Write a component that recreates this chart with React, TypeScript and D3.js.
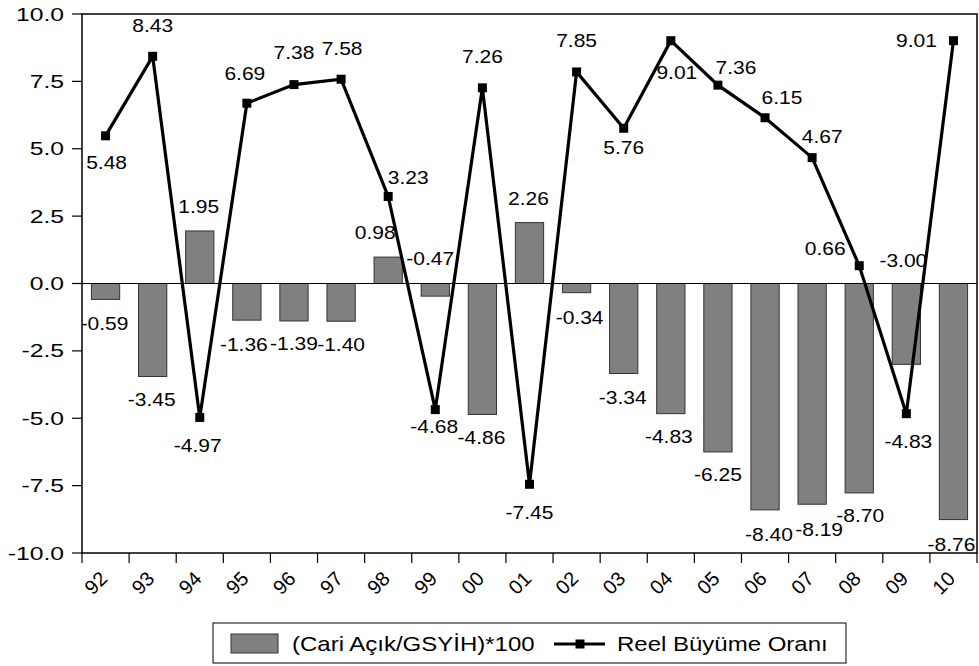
import React, { useRef, useEffect } from 'react'
import * as d3 from 'd3'

// years (x axis)
const years = ['92', '93', '94', '95', '96', '97', '98', '99', '00', '01', '02', '03', '04', '05', '06', '07', '08', '09', '10']

// (Cari Açık/GSYİH)*100 — bar heights as drawn
const cariAcik = [-0.59, -3.45, 1.95, -1.36, -1.39, -1.40, 0.98, -0.47, -4.86, 2.26, -0.34, -3.34, -4.83, -6.25, -8.40, -8.19, -7.77, -3.00, -8.76]
// the printed bar labels (08 is printed as -8.70 in the source)
const cariLabels = ['-0.59', '-3.45', '1.95', '-1.36', '-1.39', '-1.40', '0.98', '-0.47', '-4.86', '2.26', '-0.34', '-3.34', '-4.83', '-6.25', '-8.40', '-8.19', '-8.70', '-3.00', '-8.76']

// Reel Büyüme Oranı
const buyume = [5.48, 8.43, -4.97, 6.69, 7.38, 7.58, 3.23, -4.68, 7.26, -7.45, 7.85, 5.76, 9.01, 7.36, 6.15, 4.67, 0.66, -4.83, 9.01]

const yTicks = [-10, -7.5, -5, -2.5, 0, 2.5, 5, 7.5, 10]

// label placement (px offset of label centre from its mark)
const lineLabelOffset = [
    [1, 27], [0, -31], [-2, 28], [-2, -30], [0, -32], [1, -31], [20, -19], [-1, 17], [0, -31], [0, 28],
    [0, -31], [0, 19], [6, 32], [18, -17], [17, -20], [10, -21], [-34, -17], [2, 28], [-37, 0]
]
const barLabelOffset = [
    [-1, 24], [-1, 23], [-1, -24], [-3, 25], [0, 23], [0, 23], [-13, -24], [-5, -37], [-1, 23], [-1, -24],
    [3, 25], [-1, 24], [-2, 23], [0, 23], [4, 25], [7, 25], [1, 23], [-3, -104], [-2, 25]
]

const FONT = '"Liberation Sans", Arial, sans-serif'

// plain hyphen minus like the source, not d3's unicode minus
const fmt1 = v => d3.format('.1f')(v).replace('\u2212', '-')
const fmt2 = v => d3.format('.2f')(v).replace('\u2212', '-')

const App = () => {
    const chartRef = useRef(null)

    useEffect(() => {
        const svg = d3.select(chartRef.current)
        svg.selectAll('*').remove()

        const left = 82, right = 977, top = 14, bottom = 553

        const x = d3.scaleBand()
            .domain(years)
            .range([left, right])
            .paddingInner(0.4)
            .paddingOuter(0.2)

        const y = d3.scaleLinear()
            .domain([-10, 10])
            .range([bottom, top])

        // stretched text, the source is wider than the font
        const addText = (g, tx, ty, str, size, sx, anchor) => {
            g.append('text')
                .attr('transform', `translate(${tx},${ty}) scale(${sx},1)`)
                .attr('text-anchor', anchor)
                .attr('font-family', FONT)
                .attr('font-size', size)
                .attr('fill', '#000')
                .text(str)
        }

        // bars
        svg.append('g')
            .selectAll('rect')
            .data(cariAcik)
            .enter()
            .append('rect')
            .attr('x', (d, i) => x(years[i]))
            .attr('width', x.bandwidth())
            .attr('y', d => y(Math.max(0, d)))
            .attr('height', d => Math.abs(y(d) - y(0)))
            .attr('fill', '#808080')
            .attr('stroke', '#333')
            .attr('stroke-width', 1)

        // zero line
        svg.append('line')
            .attr('x1', left).attr('x2', right)
            .attr('y1', y(0)).attr('y2', y(0))
            .attr('stroke', '#000')
            .attr('stroke-width', 1)

        // frame
        svg.append('rect')
            .attr('x', left).attr('y', top)
            .attr('width', right - left).attr('height', bottom - top)
            .attr('fill', 'none')
            .attr('stroke', '#000')
            .attr('stroke-width', 1.5)

        // y axis ticks + labels
        const yAxis = svg.append('g')
        yTicks.forEach(t => {
            yAxis.append('line')
                .attr('x1', left - 10).attr('x2', left)
                .attr('y1', y(t)).attr('y2', y(t))
                .attr('stroke', '#000')
                .attr('stroke-width', 1.2)
            addText(yAxis, 64, y(t) + 6.6, fmt1(t), 19, 1.3, 'end')
        })

        // x axis ticks + rotated labels
        const xAxis = svg.append('g')
        const step = x.step()
        d3.range(years.length + 1).forEach(i => {
            const tx = left + i * step
            xAxis.append('line')
                .attr('x1', tx).attr('x2', tx)
                .attr('y1', bottom).attr('y2', bottom + 10)
                .attr('stroke', '#000')
                .attr('stroke-width', 1.2)
        })
        years.forEach(yr => {
            const cx = x(yr) + x.bandwidth() / 2
            xAxis.append('text')
                .attr('transform', `translate(${cx + 3},${bottom + 27}) rotate(-45)`)
                .attr('text-anchor', 'end')
                .attr('font-family', FONT)
                .attr('font-size', 20)
                .attr('fill', '#000')
                .text(yr)
        })

        // line
        const line = d3.line()
            .x((d, i) => x(years[i]) + x.bandwidth() / 2)
            .y(d => y(d))

        svg.append('path')
            .datum(buyume)
            .attr('d', line)
            .attr('fill', 'none')
            .attr('stroke', '#000')
            .attr('stroke-width', 3.2)
            .attr('stroke-linejoin', 'miter')

        svg.append('g')
            .selectAll('rect')
            .data(buyume)
            .enter()
            .append('rect')
            .attr('x', (d, i) => x(years[i]) + x.bandwidth() / 2 - 4.5)
            .attr('y', d => y(d) - 4.5)
            .attr('width', 9)
            .attr('height', 9)
            .attr('fill', '#000')

        // data labels
        const labels = svg.append('g')
        cariAcik.forEach((d, i) => {
            const cx = x(years[i]) + x.bandwidth() / 2
            const [dx, dy] = barLabelOffset[i]
            addText(labels, cx + dx, y(d) + dy + 6.3, cariLabels[i], 17.5, 1.2, 'middle')
        })
        buyume.forEach((d, i) => {
            const cx = x(years[i]) + x.bandwidth() / 2
            const [dx, dy] = lineLabelOffset[i]
            addText(labels, cx + dx, y(d) + dy + 6.3, fmt2(d), 17.5, 1.2, 'middle')
        })

        // legend
        const legend = svg.append('g')
        legend.append('rect')
            .attr('x', 213).attr('y', 623)
            .attr('width', 633).attr('height', 40)
            .attr('fill', '#fff')
            .attr('stroke', '#000')
            .attr('stroke-width', 1)
        legend.append('rect')
            .attr('x', 231).attr('y', 634)
            .attr('width', 47).attr('height', 19)
            .attr('fill', '#808080')
            .attr('stroke', '#333')
            .attr('stroke-width', 1)
        addText(legend, 292, 651, '(Cari Açık/GSYİH)*100', 20, 1.2, 'start')
        legend.append('line')
            .attr('x1', 554).attr('x2', 605)
            .attr('y1', 644).attr('y2', 644)
            .attr('stroke', '#000')
            .attr('stroke-width', 3.2)
        legend.append('rect')
            .attr('x', 575.5).attr('y', 639.5)
            .attr('width', 9).attr('height', 9)
            .attr('fill', '#000')
        addText(legend, 617, 651, 'Reel Büyüme Oranı', 20, 1.2, 'start')
    }, [])

    return (
        <svg
            ref={chartRef}
            width={979}
            height={666}
            style={{ position: 'absolute', left: 0, top: 0, background: '#fff' }}
        ></svg>
    )
}

export default App
